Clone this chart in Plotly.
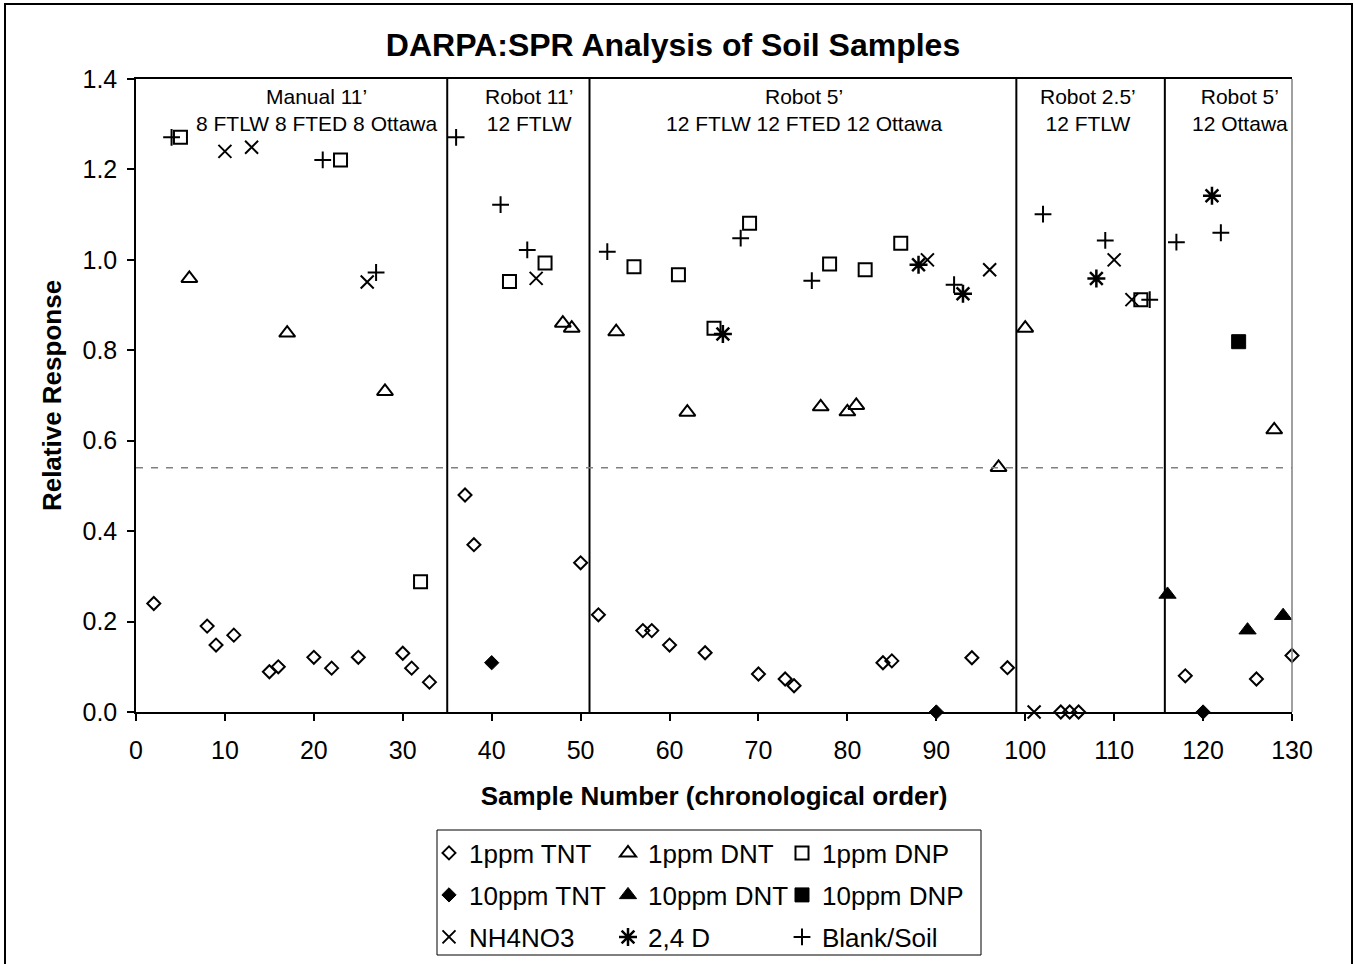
import plotly.graph_objects as go

# ---------------- data ----------------
tnt1_x = [2, 8, 9, 11, 15, 16, 20, 22, 25, 30, 31, 33, 37, 38, 50, 52, 57, 58, 60, 64,
          70, 73, 74, 84, 85, 94, 98, 104, 105, 106, 118, 126, 130]
tnt1_y = [0.24, 0.19, 0.148, 0.17, 0.089, 0.10, 0.121, 0.097, 0.121, 0.13, 0.097, 0.066,
          0.48, 0.37, 0.33, 0.215, 0.18, 0.18, 0.148, 0.131, 0.084, 0.073, 0.058, 0.109,
          0.113, 0.12, 0.098, 0.0, 0.0, 0.0, 0.08, 0.073, 0.125]

dnt1_x = [6, 17, 28, 48, 49, 54, 62, 77, 80, 81, 97, 100, 128]
dnt1_y = [0.959, 0.838, 0.709, 0.860, 0.849, 0.841, 0.663, 0.675, 0.664, 0.678, 0.541, 0.849, 0.624]

dnp1_x = [5, 23, 32, 42, 46, 56, 61, 65, 69, 78, 82, 86, 113]
dnp1_y = [1.271, 1.221, 0.288, 0.952, 0.993, 0.985, 0.967, 0.849, 1.081, 0.991, 0.978, 1.037, 0.912]

tnt10_x = [40, 90, 120]
tnt10_y = [0.109, 0.0, 0.0]

dnt10_x = [116, 125, 129]
dnt10_y = [0.26, 0.181, 0.213]

dnp10_x = [124]
dnp10_y = [0.819]

nh4_x = [10, 13, 26, 45, 89, 96, 101, 110, 112]
nh4_y = [1.240, 1.249, 0.951, 0.959, 1.0, 0.978, 0.0, 1.0, 0.912]

d24_x = [66, 88, 93, 108, 121]
d24_y = [0.836, 0.989, 0.925, 0.959, 1.142]

blank_x = [4, 21, 27, 36, 41, 44, 53, 68, 76, 92, 102, 109, 114, 117, 122]
blank_y = [1.271, 1.221, 0.972, 1.271, 1.122, 1.022, 1.018, 1.048, 0.954, 0.945,
           1.101, 1.043, 0.912, 1.039, 1.06]

series_names = ["1ppm TNT", "1ppm DNT", "1ppm DNP",
                "10ppm TNT", "10ppm DNT", "10ppm DNP",
                "NH4NO3", "2,4 D", "Blank/Soil"]
series_x = [tnt1_x, dnt1_x, dnp1_x, tnt10_x, dnt10_x, dnp10_x, nh4_x, d24_x, blank_x]
series_y = [tnt1_y, dnt1_y, dnp1_y, tnt10_y, dnt10_y, dnp10_y, nh4_y, d24_y, blank_y]

divider_x = [35, 51, 99, 115.7]
threshold = 0.54

region_labels = ["Manual 11’<br>8 FTLW 8 FTED 8 Ottawa",
                 "Robot 11’<br>12 FTLW",
                 "Robot 5’<br>12 FTLW 12 FTED 12 Ottawa",
                 "Robot 2.5’<br>12 FTLW",
                 "Robot 5’<br>12 Ottawa"]
region_label_x = [20.25, 44.2, 75.2, 107.1, 124.2]

x_ticks = list(range(0, 131, 10))
y_ticks = [0.0, 0.2, 0.4, 0.6, 0.8, 1.0, 1.2, 1.4]

# ---------------- styles ----------------
symbols = ["diamond-open", "triangle-up-open", "square-open",
           "diamond", "triangle-up", "square",
           "x-thin-open", "asterisk-open", "cross-thin-open"]
sizes = [10, 14, 13, 11, 15, 14, 13, 15, 12]
line_w = [2, 2, 2, 1, 1, 1, 2, 2.5, 2]

OFF = 0  # body margin removed via post_script
W, H = 1355, 964
PW, PH = 1156, 633
ML = 136 - OFF
MT = 79 - OFF
MR = W - ML - PW
MB = H - MT - PH
FONT = "Liberation Sans, Arial, sans-serif"


def pxx(p):
    # screen pixel -> paper x
    return (p - OFF - ML) / PW


def pxy(p):
    # screen pixel -> paper y
    return (MT + PH - (p - OFF)) / PH


legend_text_x = [469, 648, 822]
legend_row_y = [853, 895, 937]

fig = go.Figure()
for i, (nm, xs, ys) in enumerate(zip(series_names, series_x, series_y)):
    key = "legend" if i == 0 else f"legend{i + 1}"
    fig.add_trace(go.Scatter(
        x=xs, y=ys, mode="markers", name=nm, legend=key, cliponaxis=False,
        marker=dict(symbol=symbols[i], size=sizes[i], color="black",
                    line=dict(color="black", width=line_w[i])),
    ))
    r, c = divmod(i, 3)
    fig.update_layout(**{key: dict(
        x=pxx(legend_text_x[c] - 40), y=pxy(legend_row_y[r]),
        xanchor="left", yanchor="middle", orientation="v",
        bgcolor="rgba(0,0,0,0)", borderwidth=0, itemwidth=30,
        font=dict(family=FONT, size=26, color="black"))})

shapes = []
for xv in divider_x:
    shapes.append(dict(type="line", xref="x", yref="paper", x0=xv, x1=xv, y0=0, y1=1,
                       line=dict(color="black", width=2)))
shapes.append(dict(type="line", xref="paper", yref="y", x0=0, x1=1, y0=threshold, y1=threshold,
                   line=dict(color="#808080", width=1.5, dash="7px,8px")))
# right plot-area border (gray)
shapes.append(dict(type="line", xref="paper", yref="paper", x0=1, x1=1, y0=0, y1=1,
                   line=dict(color="#808080", width=1.5)))
# legend box
shapes.append(dict(type="rect", xref="paper", yref="paper",
                   x0=pxx(437), x1=pxx(981), y0=pxy(955), y1=pxy(830),
                   line=dict(color="black", width=1)))
# outer chart border
shapes.append(dict(type="rect", xref="paper", yref="paper",
                   x0=pxx(5), x1=pxx(1352), y0=pxy(975), y1=pxy(4),
                   line=dict(color="black", width=2)))

annotations = []
for txt, xv in zip(region_labels, region_label_x):
    annotations.append(dict(text=txt, x=xv, xref="x", y=pxy(110), yref="paper",
                            xanchor="center", yanchor="middle", showarrow=False,
                            font=dict(family=FONT, size=21, color="black")))

fig.update_layout(
    width=W, height=H, showlegend=True,
    margin=dict(l=ML, r=MR, t=MT, b=MB, autoexpand=False),
    paper_bgcolor="white", plot_bgcolor="white",
    font=dict(family=FONT, color="black"),
    title=dict(text="DARPA:SPR Analysis of Soil Samples", xref="paper", x=pxx(673),
               xanchor="center", yref="container", y=1 - (45 - OFF) / H, yanchor="middle",
               font=dict(family=FONT, size=32, color="black", weight="bold")),
    xaxis=dict(range=[0, 130], tickvals=x_ticks, ticks="outside", ticklen=7, tickwidth=1.5,
               tickcolor="black", showline=True, linecolor="black", linewidth=1.5, mirror=True,
               showgrid=False, zeroline=False, ticklabelstandoff=8,
               tickfont=dict(family=FONT, size=25, color="black"),
               title=dict(text="Sample Number (chronological order)", standoff=24,
                          font=dict(family=FONT, size=26, color="black", weight="bold"))),
    yaxis=dict(range=[0, 1.4], tickvals=y_ticks, tickformat=".1f", ticks="outside", ticklen=7,
               tickwidth=1.5, tickcolor="black", showline=True, linecolor="black", linewidth=1.5,
               showgrid=False, zeroline=False, ticklabelstandoff=5,
               tickfont=dict(family=FONT, size=25, color="black"),
               title=dict(text="Relative Response", standoff=13,
                          font=dict(family=FONT, size=26, color="black", weight="bold"))),
    shapes=shapes, annotations=annotations,
)

fig.write_html("out.html", config={"displayModeBar": False},
               post_script="document.body.style.margin='0px';document.body.style.overflow='hidden';")
